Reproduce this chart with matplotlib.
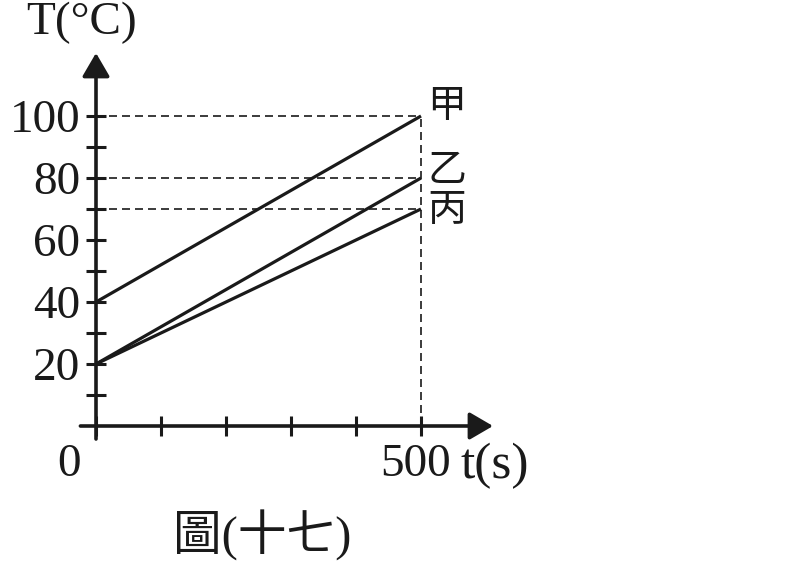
import matplotlib.pyplot as plt
import numpy as np

plt.rcParams["font.family"] = ["Liberation Serif", "Noto Sans CJK TC"]

# data
names = ["甲", "乙", "丙"]
t_end = 500
T_start = [40, 20, 20]
T_end = [100, 80, 70]
y_labels = [20, 40, 60, 80, 100]

# pixel -> data mapping of the reference (x=0 at px 96, 0.65 px per s; T=0 at px 426, 3.1 px per deg)
W, H = 795, 565
x0_px, xs = 96, 0.65
y0_px, ys = 426, 3.1

fig = plt.figure(figsize=(W / 100, H / 100), dpi=100)
ax = fig.add_axes([0, 0, 1, 1])
ax.set_xlim(-x0_px / xs, (W - x0_px) / xs)
ax.set_ylim((y0_px - H) / ys, y0_px / ys)
ax.patch.set_visible(False)

for s in ["top", "right"]:
    ax.spines[s].set_visible(False)
ax.spines["left"].set_position(("data", 0))
ax.spines["bottom"].set_position(("data", 0))
ax.spines["left"].set_color("none")
ax.spines["bottom"].set_color("none")

# axes with arrow heads
arrow = dict(arrowstyle="-|>,head_length=0.72,head_width=0.42", color="#1a1a1a",
             lw=2.6, mutation_scale=20, shrinkA=0, shrinkB=0)
ax.annotate("", xy=(0, (y0_px - 53) / ys), xytext=(0, -4.2), arrowprops=arrow)
ax.annotate("", xy=((493 - x0_px) / xs, 0), xytext=(-24, 0), arrowprops=arrow)

# ticks
ax.set_xticks(np.arange(0, t_end + 1, 100))
ax.set_xticklabels([])
ax.set_yticks(np.arange(10, 101, 10))
ax.set_yticklabels([str(v) if v in y_labels else "" for v in range(10, 101, 10)])
ax.tick_params(direction="inout", length=14.4, width=2.2, color="#1a1a1a",
               labelsize=34, labelcolor="#1a1a1a")
ax.tick_params(axis="y", pad=4)

# guide lines
dash = (0, (4.8, 3))
for v in T_end:
    ax.plot([0, t_end], [v, v], color="#1a1a1a", lw=1.2, linestyle=dash)
ax.plot([t_end, t_end], [0, max(T_end)], color="#1a1a1a", lw=1.2, linestyle=dash)

# temperature lines
for name, a, b in zip(names, T_start, T_end):
    ax.plot([0, t_end], [a, b], color="#1a1a1a", lw=2.3, solid_capstyle="butt")

label_y = [103.2, 82.6, 69.7]
for name, ly in zip(names, label_y):
    ax.text(540, ly, name, ha="center", va="center", fontsize=28,
            family=["Noto Sans CJK TC"], color="#1a1a1a")

ax.text(-21.5, 130.0, "T(°C)", ha="center", va="center", fontsize=34, color="#1a1a1a")
ax.text(-41.5, -12.6, "0", ha="center", va="center", fontsize=34, color="#1a1a1a")
ax.text(t_end - 8, -12.6, str(t_end), ha="center", va="center", fontsize=34, color="#1a1a1a")
ax.text(614, -13.0, "t(s)", ha="center", va="center", fontsize=37, color="#1a1a1a")
ax.text(255, -35.2, "圖(十七)", ha="center", va="center", fontsize=35, color="#1a1a1a")

fig.savefig("out.png", dpi=100)
